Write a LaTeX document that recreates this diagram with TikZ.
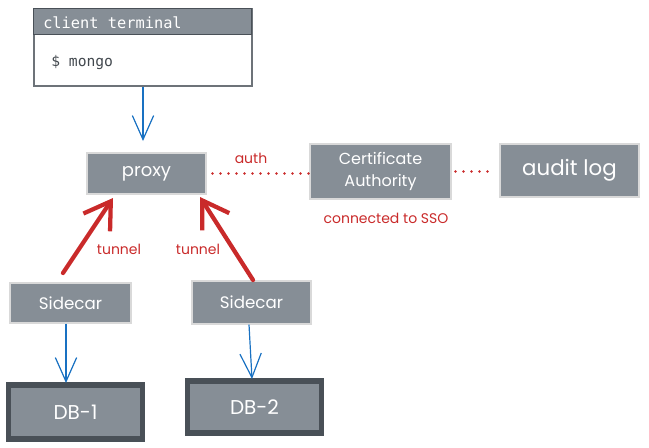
\documentclass[tikz,border=0pt]{standalone}
\usepackage{fontspec}
\setmainfont{Poppins}
\setmonofont{DejaVu Sans Mono}
\usetikzlibrary{arrows.meta}
\definecolor{boxgray}{HTML}{868E96}
\definecolor{dark}{HTML}{495057}
\definecolor{exred}{HTML}{C92A2A}
\definecolor{exblue}{HTML}{1971C2}
\begin{document}
\begin{tikzpicture}[x=0.75pt,y=-0.75pt,
  gbox/.style={draw=white!85!black,line width=0.8pt,fill=boxgray,text=white,inner sep=0pt,align=center,font=\fontsize{12.5}{14}\selectfont},
  dbbox/.style={draw=dark,line width=3.8pt,fill=boxgray,text=white,inner sep=0pt,font=\fontsize{15}{17}\selectfont},
  barrow/.style={draw=exblue,line width=0.9pt,-{Straight Barb[length=18pt,width=16pt]}},
  rarrow/.style={draw=exred,line width=3.2pt,line cap=round,-{Straight Barb[length=19pt,width=24pt]}},
  dotline/.style={draw=exred,line width=2pt,line cap=round,dash pattern=on 0pt off 6pt},
  rlabel/.style={text=exred,font=\fontsize{10.5}{12}\selectfont,inner sep=1pt}]
\useasboundingbox (0,0) rectangle (649,447);
% client terminal
\node[draw=dark!80,line width=0.9pt,fill=white,minimum width=163.5pt,minimum height=57.75pt,inner sep=0pt] (term) at (143,47.5) {};
\node[fill=boxgray,draw=dark,line width=0.6pt,minimum width=163.5pt,minimum height=19.5pt,inner sep=0pt,anchor=north west] (termhead) at (term.north west) {};
\node[anchor=west,text=white,font=\ttfamily\fontsize{11.5}{13}\selectfont,inner sep=0pt] (termtitle) at (43,22.5) {client terminal};
\node[anchor=west,text=dark!90!black,font=\ttfamily\fontsize{11}{13}\selectfont,inner sep=0pt] (cmd) at (51,62) {\$ mongo};
% boxes
\node[gbox,minimum width=89.25pt,minimum height=30.75pt,font=\fontsize{13.5}{15}\selectfont] (proxy) at (146.5,173.5) {proxy};
\node[gbox,minimum width=105.75pt,minimum height=41.25pt,font=\fontsize{12}{16}\selectfont] (ca) at (380.5,171.5) {Certificate\\Authority};
\node[gbox,minimum width=104.25pt,minimum height=39.75pt,font=\fontsize{16}{18}\selectfont] (audit) at (569.5,170.5) {audit log};
\node[gbox,minimum width=90.75pt,minimum height=30pt] (side1) at (70.5,303) {Sidecar};
\node[gbox,minimum width=89.25pt,minimum height=32.25pt] (side2) at (251.5,302.5) {Sidecar};
\node[dbbox,minimum width=100pt,minimum height=40.5pt] (db1) at (75.5,412) {DB-1};
\node[dbbox,minimum width=100pt,minimum height=39pt] (db2) at (254.5,407) {DB-2};
% connectors
\draw[barrow] (term.south -| 143,0) -- (143,141);
\draw[dotline] (proxy.east) ++(6,0) coordinate (p1) -- (ca.west |- p1);
\draw[dotline] (ca.east) ++(4,0) coordinate (c1) -- ([xshift=-6pt]audit.west |- c1);
\node[rlabel] (authl) at (251,158) {auth};
\node[rlabel] (ssol) at (386,218) {connected to SSO};
\draw[rarrow] (63,273) -- (113,198);
\draw[rarrow] (253,280) -- (200,197);
\node[rlabel] (t1) at (119,249) {tunnel};
\node[rlabel] (t2) at (198,249) {tunnel};
\draw[barrow] (side1.south -| 66,0) -- (66,383);
\draw[barrow] (side2.south -| 249,0) -- (252,379);
\end{tikzpicture}
\end{document}
